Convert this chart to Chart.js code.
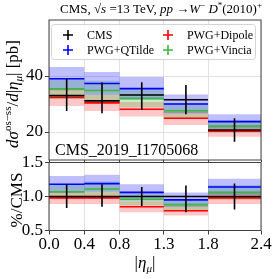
<!DOCTYPE html>
<html>
<head>
<meta charset="utf-8">
<script src="https://cdn.jsdelivr.net/npm/chart.js@4"></script>
<style>
  body { margin: 0; background: #fff; }
  #wrap { position: relative; width: 277px; height: 279px; }
  canvas { position: absolute; left: 0; }
</style>
</head>
<body>
<div id="wrap">
  <canvas id="top" width="277" height="162" style="top:0"></canvas>
  <canvas id="ratio" width="277" height="129" style="top:150px"></canvas>
</div>
<script>
// bordes de los bins en |eta_mu|
const edges = [0.0, 0.4, 0.8, 1.3, 1.8, 2.4];

// datos CMS (pb)
const cms = [33.0, 31.1, 33.2, 31.5, 20.7];
const cmsHi = [39.0, 37.7, 37.8, 36.8, 24.9];
const cmsLo = [27.5, 26.7, 27.9, 26.3, 16.5];

// predicciones
const qtilde = [39.0, 37.3, 35.5, 30.0, 23.7];
const qtildeUp = [43.2, 41.4, 39.6, 33.4, 26.3];
const qtildeDn = [34.9, 33.3, 31.5, 26.7, 21.2];
const dipole = [32.3, 30.4, 28.1, 24.9, 20.3];
const dipoleUp = [35.3, 33.3, 30.7, 27.3, 22.3];
const dipoleDn = [29.3, 27.5, 25.5, 22.5, 18.3];
const vincia = [35.4, 34.8, 32.0, 27.6, 22.1];
const vinciaUp = [39.0, 38.3, 35.3, 30.4, 24.3];
const vinciaDn = [31.9, 31.4, 28.8, 24.9, 19.9];

// panel de cociente
const cmsR = [1.0, 1.0, 1.0, 1.0, 1.0];
const cmsRHi = [1.18, 1.18, 1.14, 1.16, 1.19];
const cmsRLo = [0.83, 0.85, 0.86, 0.77, 0.81];
const qtildeR = [1.18, 1.19, 1.06, 0.95, 1.14];
const qtildeRUp = [1.30, 1.32, 1.18, 1.06, 1.26];
const qtildeRDn = [1.05, 1.07, 0.94, 0.85, 1.02];
const vinciaR = [1.07, 1.11, 0.96, 0.88, 1.06];
const vinciaRUp = [1.18, 1.22, 1.06, 0.96, 1.17];
const vinciaRDn = [0.96, 1.00, 0.87, 0.79, 0.95];
const dipoleR = [0.98, 0.98, 0.85, 0.79, 0.98];
const dipoleRUp = [1.07, 1.07, 0.93, 0.86, 1.07];
const dipoleRDn = [0.89, 0.89, 0.77, 0.72, 0.89];

const topTicks = [20, 40];
const ratioTicks = [0.5, 1.0, 1.5];

const BLUE = "#0000ff", RED = "#ff0000", GREEN = "#3cb83c", BLACK = "#000000";
const SERIF = "'Liberation Serif', 'DejaVu Serif', serif";

// segmentos horizontales por bin (con cortes)
const steps = (vals) =>
  vals.flatMap((v, i) => [
    { x: edges[i], y: v },
    { x: edges[i + 1], y: v },
    { x: edges[i + 1], y: null },
  ]);
// contorno continuo para las bandas
const bandPts = (vals) =>
  vals.flatMap((v, i) => [
    { x: edges[i], y: v },
    { x: edges[i + 1], y: v },
  ]);
// barras de error en el centro del bin
const errPts = (lo, hi) =>
  lo.flatMap((l, i) => {
    const c = (edges[i] + edges[i + 1]) / 2;
    return [{ x: c, y: l }, { x: c, y: hi[i] }, { x: c, y: null }];
  });

const line = (label, data, color, width) => ({
  label, data, borderColor: color, borderWidth: width,
  pointRadius: 0, fill: false, spanGaps: false, tension: 0,
});
const band = (up, dn, color) => [
  { data: bandPts(up), borderWidth: 0, pointRadius: 0, fill: "+1", backgroundColor: color },
  { data: bandPts(dn), borderWidth: 0, pointRadius: 0, fill: false },
];

const buildDatasets = (c, cHi, cLo, q, qU, qD, d, dU, dD, v, vU, vD) => [
  line("CMS", steps(c), BLACK, 1.6),
  line("CMS err", errPts(cLo, cHi), BLACK, 1.6),
  line("PWG+QTilde", steps(q), BLUE, 1.6),
  line("PWG+Vincia", steps(v), GREEN, 1.6),
  line("PWG+Dipole", steps(d), RED, 1.6),
  ...band(qU, qD, "rgba(0,0,255,0.25)"),
  ...band(vU, vD, "rgba(60,184,60,0.28)"),
  ...band(dU, dD, "rgba(255,0,0,0.22)"),
];

// texto con partes en cursiva, super y subindices
function drawRuns(ctx, runs, x, y, align) {
  let w = 0;
  runs.forEach((r) => {
    ctx.font = r.f;
    r.w = ctx.measureText(r.t).width;
    w += r.w;
  });
  let cx = align === "center" ? x - w / 2 : x;
  runs.forEach((r) => {
    ctx.font = r.f;
    ctx.fillText(r.t, cx, y + (r.dy || 0));
    cx += r.w;
  });
}
const R = (s) => `${s}px ${SERIF}`;
const I = (s) => `italic ${s}px ${SERIF}`;

const frame = {
  id: "frame",
  afterDraw(chart) {
    const { ctx, chartArea: a } = chart;
    ctx.save();
    ctx.strokeStyle = "#404040";
    ctx.lineWidth = 1;
    ctx.strokeRect(a.left, a.top, a.right - a.left, a.bottom - a.top);
    ctx.restore();
  },
};

const yAxis = (min, max, ticks, fmt) => ({
  min, max,
  afterBuildTicks: (s) => { s.ticks = ticks.map((v) => ({ value: v })); },
  afterFit: (s) => { s.width = 49; s.paddingTop = 0; s.paddingBottom = 0; },
  grid: { color: "#e2e2e2", lineWidth: 1, tickLength: 4, tickColor: "#404040" },
  border: { display: false },
  ticks: { font: { family: SERIF, size: 17 }, color: "#000", padding: 2, callback: fmt },
});
const xAxis = (showLabels, height) => ({
  type: "linear", min: 0, max: 2.4,
  afterBuildTicks: (s) => { s.ticks = edges.map((v) => ({ value: v })); },
  afterFit: (s) => { s.height = height; s.paddingLeft = 0; s.paddingRight = 0; },
  grid: { color: "#e2e2e2", lineWidth: 1, tickLength: 4, tickColor: "#404040" },
  border: { display: false },
  ticks: {
    display: showLabels, autoSkip: false, maxRotation: 0, padding: 0,
    font: { family: SERIF, size: 17 }, color: "#000",
    callback: (v) => v.toFixed(1),
  },
});

// titulo, leyenda y etiquetas del panel superior
const topText = {
  id: "topText",
  afterDraw(chart) {
    const ctx = chart.ctx;
    ctx.save();
    ctx.fillStyle = "#000";
    ctx.textBaseline = "alphabetic";
    drawRuns(ctx, [
      { t: "CMS, ", f: R(13) }, { t: "√", f: R(13) }, { t: "s", f: I(13) },
      { t: " =13 TeV, ", f: R(13) }, { t: "pp", f: I(13) }, { t: " →", f: R(13) },
      { t: "W", f: I(13) }, { t: "−", f: R(9), dy: -5 }, { t: " D", f: I(13) },
      { t: "*", f: R(9), dy: -5 }, { t: "(2010)", f: R(13) }, { t: "+", f: R(9), dy: -5 },
    ], 161, 13, "center");

    drawRuns(ctx, [{ t: "CMS_2019_I1705068", f: R(16) }], 55, 155, "left");

    // eje y rotado
    ctx.translate(18, 94);
    ctx.rotate(-Math.PI / 2);
    drawRuns(ctx, [
      { t: "dσ", f: I(17) }, { t: "os−ss", f: R(11), dy: -7 }, { t: "/", f: R(17) },
      { t: "d", f: I(17) }, { t: "|", f: R(17) }, { t: "η", f: I(17) },
      { t: "μ", f: I(11), dy: 4 }, { t: "| [pb]", f: R(17) },
    ], 0, 0, "center");
    ctx.restore();

    // leyenda
    ctx.save();
    ctx.fillStyle = "rgba(255,255,255,0.8)";
    ctx.strokeStyle = "#d4d4d4";
    ctx.lineWidth = 1;
    ctx.beginPath();
    ctx.roundRect(51.5, 24.5, 204, 35, 3);
    ctx.fill();
    ctx.stroke();
    const items = [
      ["CMS", BLACK, 68, 35], ["PWG+Dipole", RED, 168, 35],
      ["PWG+QTilde", BLUE, 68, 50], ["PWG+Vincia", GREEN, 168, 50],
    ];
    ctx.textBaseline = "middle";
    items.forEach(([label, color, x, y]) => {
      ctx.strokeStyle = color;
      ctx.lineWidth = 1.6;
      ctx.beginPath();
      ctx.moveTo(x - 5, y); ctx.lineTo(x + 5, y);
      ctx.moveTo(x, y - 5); ctx.lineTo(x, y + 5);
      ctx.stroke();
      ctx.fillStyle = "#000";
      ctx.font = R(12);
      ctx.fillText(label, x + 19, y + 1);
    });
    ctx.restore();
  },
};

const ratioText = {
  id: "ratioText",
  afterDraw(chart) {
    const ctx = chart.ctx;
    ctx.save();
    ctx.fillStyle = "#000";
    ctx.textBaseline = "alphabetic";
    drawRuns(ctx, [
      { t: "|", f: R(17) }, { t: "η", f: I(17) }, { t: "μ", f: I(11), dy: 4 }, { t: "|", f: R(17) },
    ], 145, 118, "center");
    ctx.translate(22, 50);
    ctx.rotate(-Math.PI / 2);
    drawRuns(ctx, [{ t: "%/CMS", f: R(17) }], 0, 0, "center");
    ctx.restore();
  },
};

const baseOptions = (y, x, padding) => ({
  responsive: false,
  animation: false,
  devicePixelRatio: 1,
  layout: { padding },
  plugins: { legend: { display: false }, tooltip: { enabled: false } },
  scales: { x, y },
});

new Chart(document.getElementById("top"), {
  type: "line",
  data: {
    datasets: buildDatasets(cms, cmsHi, cmsLo, qtilde, qtildeUp, qtildeDn,
      dipole, dipoleUp, dipoleDn, vincia, vinciaUp, vinciaDn),
  },
  options: baseOptions(
    yAxis(10, 60, topTicks, (v) => v.toString()),
    xAxis(false, 2),
    { left: 0, right: 16, top: 20, bottom: 0 }
  ),
  plugins: [frame, topText],
});

new Chart(document.getElementById("ratio"), {
  type: "line",
  data: {
    datasets: buildDatasets(cmsR, cmsRHi, cmsRLo, qtildeR, qtildeRUp, qtildeRDn,
      dipoleR, dipoleRUp, dipoleRDn, vinciaR, vinciaRUp, vinciaRDn),
  },
  options: baseOptions(
    yAxis(0.5, 1.5, ratioTicks, (v) => v.toFixed(1)),
    xAxis(true, 48.5),
    { left: 0, right: 16, top: 12.5, bottom: 0 }
  ),
  plugins: [frame, ratioText],
});
</script>
</body>
</html>
